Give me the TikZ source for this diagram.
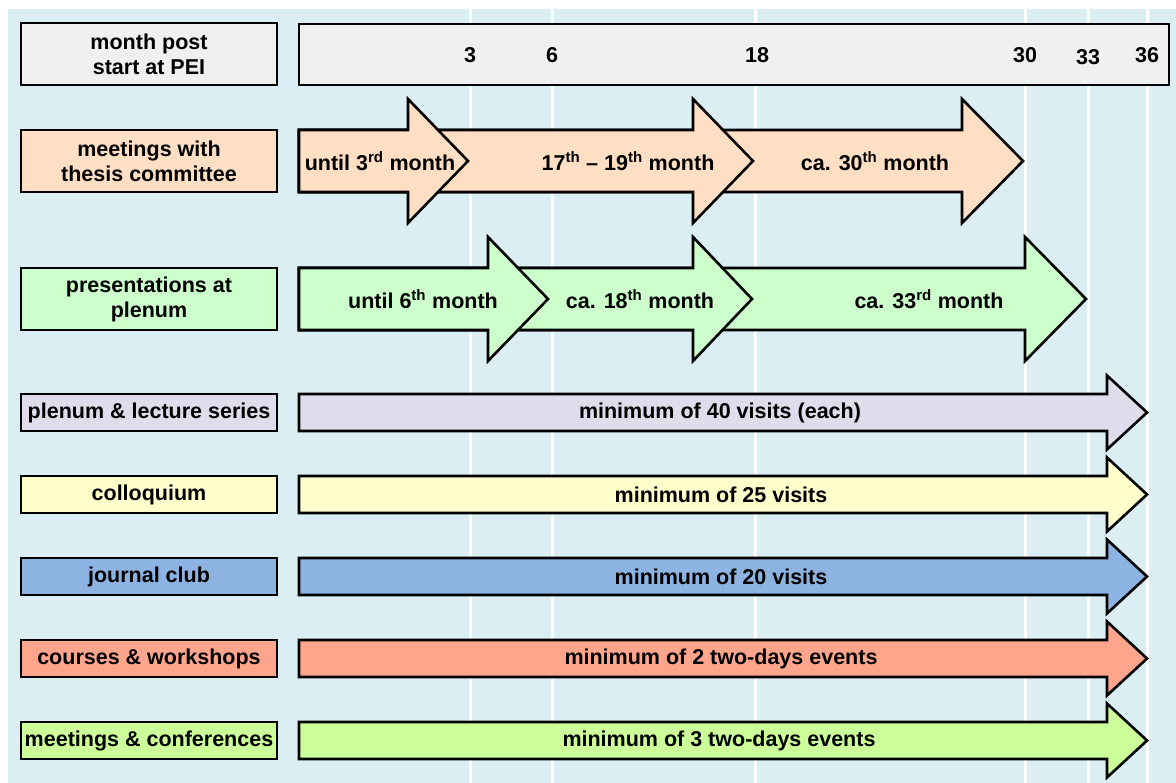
\documentclass[tikz,border=0pt]{standalone}
\usepackage{fontspec}
\setmainfont{Liberation Sans}
\definecolor{backblue}{HTML}{DBEEF4}
\definecolor{headgray}{HTML}{F0F0F0}
\definecolor{peach}{HTML}{FFDFC4}
\definecolor{mint}{HTML}{CCFFCC}
\definecolor{lavender}{HTML}{E0DCEB}
\definecolor{cream}{HTML}{FFFFCC}
\definecolor{skyblue}{HTML}{8DB3E2}
\definecolor{salmon}{HTML}{FFA58C}
\definecolor{lime}{HTML}{CCFF99}
\tikzset{
	frame/.style = {draw=black, line width=2.6pt, line join=miter},
	pics/phase/.style n args={5}{
		code = {
			\draw[frame, fill=#5] (#1, #4-31) -- (#2, #4-31) -- (#2, #4-62) -- (#3, #4) -- (#2, #4+62) -- (#2, #4+31) -- (#1, #4+31) -- cycle;
		}
	},
	pics/track/.style n args={2}{
		code = {
			\draw[frame, fill=#2] (299, #1-18.5) -- (1107, #1-18.5) -- (1107, #1-37) -- (1147, #1) -- (1107, #1+37) -- (1107, #1+18.5) -- (299, #1+18.5) -- cycle;
		}
	}
}

\begin{document}
\begin{tikzpicture}[x=1pt, y=-1pt, every node/.style={font=\fontsize{21.5}{25}\selectfont\bfseries, align=center, inner sep=0pt},
	rowbox/.style={frame, minimum width=256, minimum height=37}]

	\useasboundingbox (0, 0) rectangle (1176, 783);
	\fill[backblue] (8, 9) rectangle (1176, 783);

	% month grid
	\foreach \gx in {470, 552, 755, 1025, 1088, 1147}
		\draw[white, line width=3pt] (\gx, 9) -- (\gx, 783);

	% header
	\node[rowbox, fill=headgray, minimum height=62] (head) at (149, 54) {month post\\start at PEI};
	\draw[frame, fill=headgray] (299, 24) rectangle (1169, 85);
	\node (m3) at (470, 55) {3};
	\node (m6) at (552, 55) {6};
	\node (m18) at (757, 55) {18};
	\node (m30) at (1025, 55) {30};
	\node (m33) at (1088, 57) {33};
	\node (m36) at (1147, 55) {36};

	% thesis committee
	\node[rowbox, fill=peach, minimum height=62] (committee) at (149, 161) {meetings with\\thesis committee};
	\pic{phase={299}	{962}	{1023}	{161}	{peach}};
	\pic{phase={299}	{693}	{753}	{161}	{peach}};
	\pic{phase={299}	{408}	{468}	{161}	{peach}};
	\node (c1) at (380, 161) {until 3\textsuperscript{rd} month};
	\node (c2) at (628, 161) {17\textsuperscript{th} -- 19\textsuperscript{th} month};
	\node (c3) at (875, 161) {ca. 30\textsuperscript{th} month};

	% plenum presentations
	\node[rowbox, fill=mint, minimum height=62] (plenum) at (149, 299) {presentations at\\plenum};
	\pic{phase={299}	{1025}	{1086}	{299}	{mint}};
	\pic{phase={299}	{693}	{752}	{299}	{mint}};
	\pic{phase={299}	{488}	{548}	{299}	{mint}};
	\node (p1) at (423, 299) {until 6\textsuperscript{th} month};
	\node (p2) at (640, 299) {ca. 18\textsuperscript{th} month};
	\node (p3) at (929, 299) {ca. 33\textsuperscript{rd} month};

	% visits and events
	\node[rowbox, fill=lavender] (lectures) at (149, 412.5) {plenum \& lecture series};
	\pic{track={412.5}	{lavender}};
	\node (v1) at (720, 412.5) {minimum of 40 visits (each)};

	\node[rowbox, fill=cream] (colloq) at (149, 494.5) {colloquium};
	\pic{track={494.5}	{cream}};
	\node (v2) at (721, 494.5) {minimum of 25 visits};

	\node[rowbox, fill=skyblue] (journal) at (149, 576.5) {journal club};
	\pic{track={576.5}	{skyblue}};
	\node (v3) at (721, 576.5) {minimum of 20 visits};

	\node[rowbox, fill=salmon] (courses) at (149, 658.5) {courses \& workshops};
	\pic{track={658.5}	{salmon}};
	\node (v4) at (721, 658.5) {minimum of 2 two-days events};

	\node[rowbox, fill=lime] (meetings) at (149, 740.5) {meetings \& conferences};
	\pic{track={740.5}	{lime}};
	\node (v5) at (719, 740.5) {minimum of 3 two-days events};

\end{tikzpicture}
\end{document}
